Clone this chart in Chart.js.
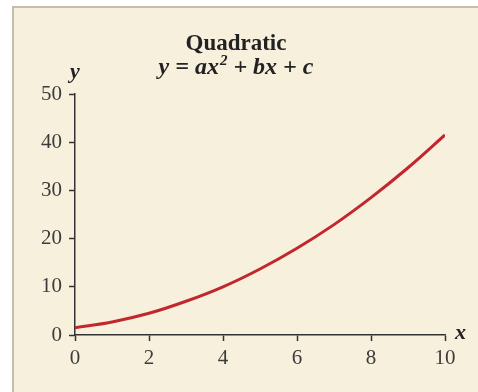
<!DOCTYPE html>
<html>
<head>
<meta charset="utf-8">
<script src="https://cdn.jsdelivr.net/npm/chart.js@4.4.1/dist/chart.umd.min.js"></script>
<style>
  html, body { margin: 0; padding: 0; background: #ffffff; overflow: hidden; }
  #myChart { display: block; }
</style>
</head>
<body>
<canvas id="myChart" width="478" height="392"></canvas>
<script>
// curve values read at each whole x
var xValues = [0, 1, 2, 3, 4, 5, 6, 7, 8, 9, 10];
var yValues = [1.5, 2.7, 4.5, 7.0, 10.0, 13.7, 18.0, 22.9, 28.5, 34.7, 41.5];
var xTicks = [0, 2, 4, 6, 8, 10];
var yTicks = [0, 10, 20, 30, 40, 50];

var serif = "'Liberation Serif', 'Times New Roman', serif";
var ink = "#333333";

var points = xValues.map(function (x, i) { return { x: x, y: yValues[i] }; });

// cream panel with a grey rule along its top and left edges
var panel = {
  id: "panel",
  beforeDraw: function (chart) {
    var ctx = chart.ctx;
    ctx.save();
    ctx.fillStyle = "#f7f0dd";
    ctx.fillRect(12, 6, chart.width - 12, chart.height - 6);
    ctx.fillStyle = "#c4bcae";
    ctx.fillRect(12, 6, chart.width - 12, 2);
    ctx.fillRect(12, 6, 2, chart.height - 6);
    ctx.restore();
  }
};

// heading, formula and the italic axis letters
var headings = {
  id: "headings",
  afterDraw: function (chart) {
    var ctx = chart.ctx;
    var a = chart.chartArea;
    var cx = 236;
    ctx.save();
    ctx.fillStyle = "#222222";
    ctx.textBaseline = "alphabetic";

    ctx.font = "bold 23px " + serif;
    ctx.textAlign = "center";
    ctx.fillText("Quadratic", cx, 50);

    // y = ax² + bx + c, with a raised 2
    var big = "italic bold 24px " + serif;
    var small = "italic bold 15px " + serif;
    var left = "y = ax", right = " + bx + c";
    ctx.font = big;
    var w1 = ctx.measureText(left).width, w3 = ctx.measureText(right).width;
    ctx.font = small;
    var w2 = ctx.measureText("2").width + 1;
    var x0 = cx - (w1 + w2 + w3) / 2;
    ctx.textAlign = "left";
    ctx.font = big;
    ctx.fillText(left, x0, 74);
    ctx.font = small;
    ctx.fillText("2", x0 + w1 + 1, 65);
    ctx.font = big;
    ctx.fillText(right, x0 + w1 + w2, 74);

    ctx.font = "italic bold 22px " + serif;
    ctx.textAlign = "center";
    ctx.fillText("y", a.left, a.top - 16);
    ctx.textAlign = "left";
    ctx.fillText("x", a.right + 10, a.bottom + 4);
    ctx.restore();
  }
};

new Chart("myChart", {
  type: "line",
  data: {
    datasets: [{
      data: points,
      borderColor: "#c1272d",
      borderWidth: 3,
      pointRadius: 0,
      tension: 0.4,
      fill: false
    }]
  },
  options: {
    responsive: false,
    animation: false,
    layout: { padding: { left: 0, right: 33, top: 94, bottom: 0 } },
    plugins: {
      legend: { display: false },
      tooltip: { enabled: false }
    },
    scales: {
      x: {
        type: "linear",
        min: 0,
        max: 10,
        afterFit: function (scale) { scale.height = 57; },
        afterBuildTicks: function (scale) {
          scale.ticks = xTicks.map(function (v) { return { value: v }; });
        },
        border: { color: ink, width: 1.5 },
        grid: { drawOnChartArea: false, tickLength: 6, tickColor: ink, tickWidth: 1.5 },
        ticks: { color: "#3c3c3c", padding: 5, maxRotation: 0, font: { family: serif, size: 21 } }
      },
      y: {
        min: 0,
        max: 50,
        afterFit: function (scale) { scale.width = 75; },
        afterBuildTicks: function (scale) {
          scale.ticks = yTicks.map(function (v) { return { value: v }; });
        },
        border: { color: ink, width: 1.5 },
        grid: { drawOnChartArea: false, tickLength: 6, tickColor: ink, tickWidth: 1.5 },
        ticks: { color: "#3c3c3c", padding: 7, font: { family: serif, size: 21 } }
      }
    }
  },
  plugins: [panel, headings]
});
</script>
</body>
</html>
